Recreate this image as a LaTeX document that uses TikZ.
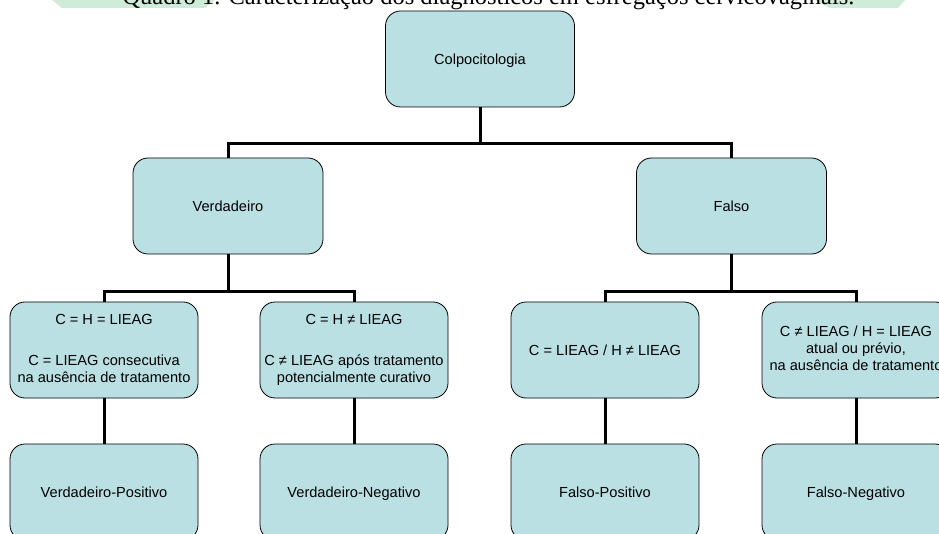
\documentclass[tikz,border=0pt]{standalone}
\usepackage{fontspec}
\setmainfont{Liberation Serif}
\newfontfamily\arialfont{Liberation Sans}
\definecolor{boxfill}{RGB}{187,224,227}
\definecolor{markgreen}{RGB}{206,236,216}
\newcommand\boxtop{\rule[-2.7pt]{0pt}{17.2pt}}
\newcommand\boxbot{\rule[-2.7pt]{0pt}{2.7pt}}
\begin{document}
\begin{tikzpicture}[x=1pt,y=-1pt,
  box/.style={draw=black,line width=0.8pt,fill=boxfill,rounded corners=15pt,
    minimum width=188pt,minimum height=96pt,align=center,inner sep=2pt,
    font=\arialfont\fontsize{14.6}{17}\selectfont,
    execute at begin node=\boxtop,execute at end node=\boxbot},
  link/.style={line width=3pt,black}]
  \useasboundingbox (0,0) rectangle (939,534);

  % faint page mark behind the caption
  \fill[markgreen] (52,0) -- (215,0) -- (205,8) -- (62,8) -- cycle;
  \fill[markgreen] (815,0) -- (905,0) -- (898,8) -- (830,8) -- cycle;

  % caption, cut by the top edge
  \node[anchor=base,inner sep=0pt,font=\fontsize{24.5}{28}\selectfont] (title) at (488.5,5)
    {Quadro 1. Caracterização dos diagnósticos em esfregaços cervicovaginais.};

  % root
  \node[box,minimum width=189pt] (colpo) at (480,59) {Colpocitologia};

  % true / false
  \node[box,minimum width=190pt] (verd) at (228,206) {Verdadeiro};
  \node[box,minimum width=190pt] (falso) at (731.5,206) {Falso};

  % criteria
  \node[box] (critVP) at (104,350)
    {C = H = LIEAG\\[24pt]C = LIEAG consecutiva\\na ausência de tratamento};
  \node[box] (critVN) at (354,350)
    {C = H ≠ LIEAG\\[24pt]C ≠ LIEAG após tratamento\\potencialmente curativo};
  \node[box] (critFP) at (605,350) {C = LIEAG / H ≠ LIEAG};
  \node[box] (critFN) at (856,350)
    {C ≠ LIEAG / H = LIEAG\\atual ou prévio,\\na ausência de tratamento};

  % outcomes
  \node[box] (vp) at (104,492) {Verdadeiro-Positivo};
  \node[box] (vn) at (354,492) {Verdadeiro-Negativo};
  \node[box] (fp) at (605,492) {Falso-Positivo};
  \node[box] (fn) at (856,492) {Falso-Negativo};

  % tree links
  \draw[link] (colpo.south) -- ++(0,36) coordinate (j0) -| (verd.north);
  \draw[link] (j0) -| (falso.north);
  \draw[link] (verd.south) -- ++(0,37) coordinate (j1) -| (critVP.north);
  \draw[link] (j1) -| (critVN.north);
  \draw[link] (falso.south) -- ++(0,37) coordinate (j2) -| (critFP.north);
  \draw[link] (j2) -| (critFN.north);
  \foreach \a/\b in {critVP/vp,critVN/vn,critFP/fp,critFN/fn}
    \draw[link] (\a.south) -- (\b.north);
\end{tikzpicture}
\end{document}
